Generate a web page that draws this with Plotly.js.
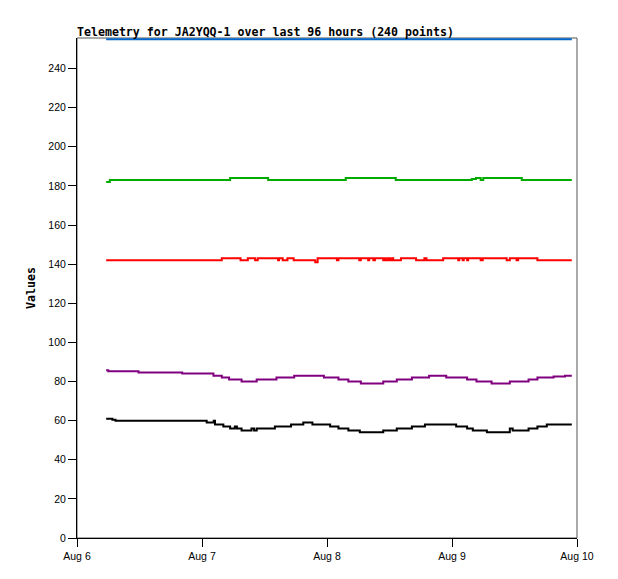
<!DOCTYPE html>
<html>
<head>
<meta charset="utf-8">
<script src="https://cdn.plot.ly/plotly-3.0.1.min.js"></script>
<style>
  html, body { margin: 0; padding: 0; background: #fff; }
  #chart { width: 618px; height: 579px; }
</style>
</head>
<body>
<div id="chart"></div>
<script>
// hours since Aug 6 00:00 where a channel changes value (drawn as steps)
const blueHours = [5.6, 95.0];
const blueVals = [255, 255];

const greenHours = [5.6, 6.3, 29.4, 36.7, 51.6, 61.2, 75.8, 76.6, 77.5, 78.0, 85.4, 95.0];
const greenVals = [182, 183, 184, 183, 184, 183, 183.5, 184, 183, 184, 183, 183];

const redHours = [5.6, 27.8, 31.4, 32.8, 34.2, 34.7, 38.6, 38.8, 39.5, 40.4, 41.6, 45.75, 46.2,
    49.9, 50.2, 54.2, 54.5, 55.9, 56.1, 56.9, 57.2, 58.8, 59.0, 59.3, 59.7, 60.1, 60.5, 60.7,
    62.2, 65.1, 66.7, 67.1, 70.3, 73.2, 73.4, 74.05, 74.25, 74.9, 75.1, 77.5, 77.9, 82.5,
    83.1, 84.4, 84.7, 88.4, 95.0];
const redVals = [142, 143, 142, 143, 142, 143, 142, 143, 142, 143, 142, 141, 143,
    142, 143, 142, 143, 142, 143, 142, 143, 142, 143, 142, 143, 142, 143, 142,
    143, 142, 143, 142, 143, 142, 143, 142, 143, 142, 143, 142, 143, 142,
    143, 142, 143, 142, 142];

const purpleHours = [5.6, 6.0, 11.8, 20.2, 26.2, 27.8, 29.2, 31.6, 34.5, 38.3, 41.7, 47.4,
    50.2, 52.1, 54.5, 58.8, 61.4, 64.3, 67.6, 70.9, 74.9, 76.7, 79.6, 83.1, 86.7, 88.4,
    91.5, 93.7, 95.0];
const purpleVals = [85.8, 85.3, 84.6, 84.1, 83, 82, 81, 80, 81, 82, 83, 82,
    81, 80, 79, 80, 81, 82, 83, 82, 81, 80, 79, 80, 81, 82,
    82.5, 83, 83];

const blackHours = [5.6, 6.8, 7.4, 24.9, 26.25, 26.5, 28.1, 29.4, 30.3, 30.7, 31.6, 33.5,
    34.0, 34.5, 38.0, 41.1, 43.45, 45.2, 48.6, 50.2, 52.1, 54.3, 58.8, 61.4, 64.3, 66.8,
    72.8, 74.9, 76.0, 78.7, 83.1, 83.65, 86.7, 88.4, 90.2, 95.0];
const blackVals = [61, 60.5, 60, 59, 60, 58, 57, 56, 57, 56, 55, 56,
    55, 56, 57, 58, 59, 58, 57, 56, 55, 54, 55, 56, 57, 58,
    57, 56, 55, 54, 56, 55, 56, 57, 58, 58];

const startDay = Date.UTC(2024, 7, 6);
const toTime = hours => hours.map(h => startDay + h * 3600000);

function channel(hours, vals, color) {
    return {
        x: toTime(hours),
        y: vals,
        mode: 'lines',
        line: {width: 2, color: color, shape: 'hv'},
        hoverinfo: 'skip'
    };
}

const data = [
    channel(blackHours, blackVals, '#000000'),
    channel(purpleHours, purpleVals, '#800080'),
    channel(redHours, redVals, '#ff0000'),
    channel(greenHours, greenVals, '#00aa00'),
    channel(blueHours, blueVals, '#0066cc')
];

const layout = {
    title: {
        text: 'Telemetry for JA2YQQ-1 over last 96 hours (240 points)',
        font: {family: 'DejaVu Sans Mono', size: 11.6, color: '#000', weight: 'bold'},
        x: 0,
        xref: 'paper',
        xanchor: 'left',
        y: 1,
        yref: 'paper',
        yanchor: 'bottom',
        pad: {b: 2}
    },
    xaxis: {
        type: 'date',
        range: ['2024-08-06', '2024-08-10'],
        tick0: '2024-08-06',
        dtick: 86400000,
        tickformat: '%b %-d',
        ticks: 'outside',
        ticklen: 8,
        tickcolor: '#000',
        showline: true,
        linecolor: '#000',
        linewidth: 1,
        showgrid: false,
        zeroline: false,
        tickfont: {family: 'Liberation Sans', size: 10.5, color: '#000'}
    },
    yaxis: {
        range: [0, 255.6],
        tick0: 0,
        dtick: 20,
        ticks: 'outside',
        ticklen: 8,
        tickcolor: '#000',
        showline: true,
        linecolor: '#000',
        linewidth: 1,
        showgrid: false,
        zeroline: false,
        tickfont: {family: 'Liberation Sans', size: 10.5, color: '#000'},
        title: {
            text: 'Values',
            font: {family: 'DejaVu Sans Mono', size: 11.6, color: '#000', weight: 'bold'},
            standoff: 10
        }
    },
    shapes: [{
        type: 'rect',
        xref: 'paper', yref: 'paper',
        x0: 0, x1: 1, y0: 0, y1: 1,
        line: {color: '#555', width: 1},
        layer: 'below'
    }],
    showlegend: false,
    autosize: false,
    width: 618,
    height: 579,
    paper_bgcolor: '#fff',
    plot_bgcolor: '#fff',
    margin: {l: 77, r: 41, t: 38, b: 41}
};

Plotly.newPlot('chart', data, layout, {displayModeBar: false, staticPlot: true});
</script>
</body>
</html>
